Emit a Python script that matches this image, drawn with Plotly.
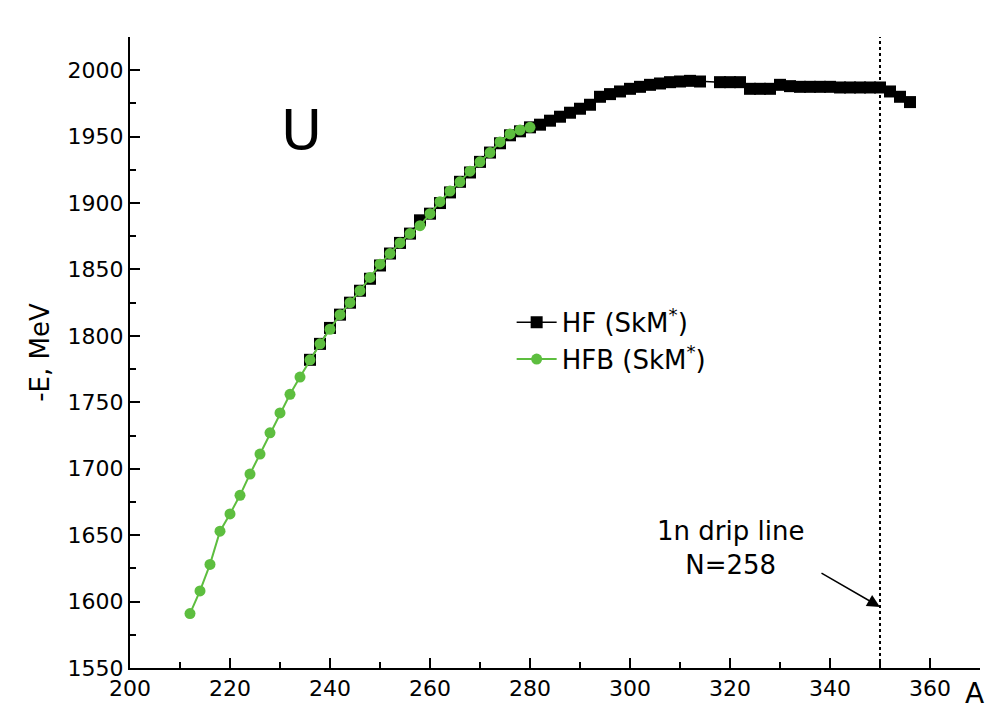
import plotly.graph_objects as go

# Mass number A and binding energy -E (MeV) for U isotopes
a_hfb = [212, 214, 216, 218, 220, 222, 224, 226, 228, 230, 232, 234, 236, 238,
         240, 242, 244, 246, 248, 250, 252, 254, 256, 258, 260, 262, 264, 266,
         268, 270, 272, 274, 276, 278, 280]
e_hfb = [1591, 1608, 1628, 1653, 1666, 1680, 1696, 1711, 1727, 1742, 1756, 1769,
         1782, 1794, 1805, 1816, 1825, 1834, 1844, 1854, 1862, 1870, 1877, 1883,
         1892, 1901, 1909, 1916, 1924, 1931, 1938, 1946, 1952, 1955, 1957]

a_hf = [236, 238, 240, 242, 244, 246, 248, 250, 252, 254, 256, 258, 260, 262,
        264, 266, 268, 270, 272, 274, 276, 278, 280, 282, 284, 286, 288, 290,
        292, 294, 296, 298, 300, 302, 304, 306, 308, 310, 312, 314, 318, 320,
        322, 324, 326, 328, 330, 332, 334, 336, 338, 340, 342, 344, 346, 348,
        350, 352, 354, 356]
e_hf = [1782, 1794, 1806, 1816, 1825, 1834, 1843, 1853, 1862, 1870, 1877, 1887,
        1892, 1900, 1908, 1916, 1923, 1931, 1938, 1945, 1951, 1954, 1957, 1959,
        1962, 1965, 1968, 1971, 1974, 1980, 1982, 1984, 1986, 1987.5, 1989, 1990,
        1991, 1991.5, 1992, 1991.5, 1991, 1991, 1991, 1986, 1986, 1986, 1989,
        1988, 1987.5, 1987.5, 1987.5, 1987.5, 1987, 1987, 1987, 1987, 1987,
        1984, 1980, 1976]

drip_a = 350
green = "#5DBE3F"
font = "DejaVu Sans, Arial, sans-serif"

fig = go.Figure()
fig.add_trace(go.Scatter(
    x=a_hf, y=e_hf, mode="lines+markers", name="HF (SkM<sup>*</sup>)",
    line=dict(color="black", width=1.5),
    marker=dict(symbol="square", size=12, color="black"),
))
fig.add_trace(go.Scatter(
    x=a_hfb, y=e_hfb, mode="lines+markers", name="HFB (SkM<sup>*</sup>)",
    line=dict(color=green, width=2),
    marker=dict(symbol="circle", size=11, color=green),
))

# 1n drip line marker
fig.add_shape(type="line", x0=drip_a, x1=drip_a, y0=1550, y1=2025,
              xref="x", yref="y", line=dict(color="black", width=2, dash="dot"))

fig.add_annotation(x=drip_a, y=1596, ax=338, ay=1622, xref="x", yref="y",
                   axref="x", ayref="y", text="", showarrow=True,
                   arrowhead=2, arrowsize=1.7, arrowwidth=1.5, arrowcolor="black")
fig.add_annotation(x=320, y=1640, xref="x", yref="y",
                   text="1n drip line<br><span style='line-height:1.5'>N=258</span>",
                   showarrow=False, font=dict(family=font, size=26, color="black"),
                   align="center")
fig.add_annotation(x=234.2, y=1955, xref="x", yref="y", text="U", showarrow=False,
                   font=dict(family=font, size=56, color="black"))
fig.add_annotation(x=1.0, y=0, xref="paper", yref="paper", text="A", showarrow=False,
                   xanchor="left", yanchor="top", xshift=-17, yshift=-7,
                   font=dict(family=font, size=28, color="black"))

fig.update_layout(
    width=994, height=709,
    margin=dict(l=130, r=14, t=37, b=41),
    paper_bgcolor="white", plot_bgcolor="white",
    font=dict(family=font, size=22, color="black"),
    showlegend=True,
    legend=dict(x=0.449, y=0.585, xanchor="left", yanchor="top",
                bgcolor="rgba(0,0,0,0)", font=dict(family=font, size=26),
                itemwidth=40, tracegroupgap=0),
    xaxis=dict(range=[200, 370], dtick=20, tick0=200, showgrid=False, zeroline=False,
               automargin=False,
               showline=True, linecolor="black", linewidth=2,
               ticks="inside", ticklen=10, tickwidth=2, tickcolor="black",
               minor=dict(dtick=10, ticks="inside", ticklen=6, tickwidth=2,
                          tickcolor="black"),
               tickfont=dict(family=font, size=22)),
    yaxis=dict(range=[1550, 2025], dtick=50, tick0=1550, showgrid=False, zeroline=False,
               automargin=False,
               showline=True, linecolor="black", linewidth=2,
               ticks="inside", ticklen=10, tickwidth=2, tickcolor="black",
               minor=dict(dtick=25, ticks="inside", ticklen=6, tickwidth=2,
                          tickcolor="black"),
               tickfont=dict(family=font, size=22),
               title=dict(text="-E, MeV", font=dict(family=font, size=26), standoff=10)),
)

fig.write_html("out.html")
